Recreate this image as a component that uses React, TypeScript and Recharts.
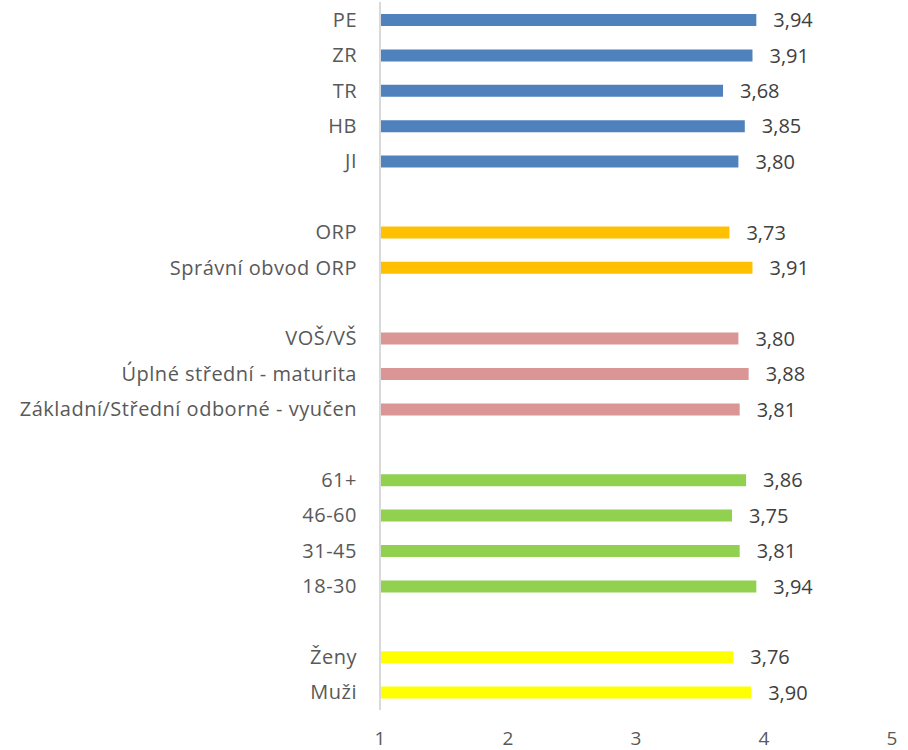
import React from 'react';
import { BarChart, Bar, XAxis, YAxis, Cell, LabelList } from 'recharts';

// rows from top to bottom, blank rows are the gaps between groups
const categories = [
  'PE', 'ZR', 'TR', 'HB', 'JI', ' ',
  'ORP', 'Správní obvod ORP', '  ',
  'VOŠ/VŠ', 'Úplné střední - maturita', 'Základní/Střední odborné - vyučen', '   ',
  '61+', '46-60', '31-45', '18-30', '    ',
  'Ženy', 'Muži',
];
const values = [
  3.94, 3.91, 3.68, 3.85, 3.8, null,
  3.73, 3.91, null,
  3.8, 3.88, 3.81, null,
  3.86, 3.75, 3.81, 3.94, null,
  3.76, 3.9,
];
const groups = [
  'kraj', 'kraj', 'kraj', 'kraj', 'kraj', '',
  'obec', 'obec', '',
  'vzdelani', 'vzdelani', 'vzdelani', '',
  'vek', 'vek', 'vek', 'vek', '',
  'pohlavi', 'pohlavi',
];
const xTicks = [1, 2, 3, 4, 5];

const groupColors: Record<string, string> = {
  kraj: '#4F81BD',
  obec: '#FFC000',
  vzdelani: '#D99694',
  vek: '#92D050',
  pohlavi: '#FFFF00',
};

const data = categories.map((name, i) => ({ name, value: values[i], group: groups[i] }));

const font = '"Open Sans", Lato, sans-serif';

const App: React.FC = () => {
  return (
    <div style={{ position: 'absolute', left: 0, top: 0 }}>
      <BarChart
        width={908}
        height={750}
        layout="vertical"
        data={data}
        margin={{ top: 2, right: 16, bottom: 0, left: 0 }}
        barCategoryGap={0}
      >
        <XAxis
          type="number"
          domain={[1, 5]}
          ticks={xTicks}
          axisLine={false}
          tickLine={false}
          tickSize={0}
          tickMargin={22}
          height={40}
          tick={{ fill: '#595959', fontSize: 19, fontFamily: font }}
        />
        <YAxis
          type="category"
          dataKey="name"
          width={380}
          axisLine={{ stroke: '#D9D9D9', strokeWidth: 2 }}
          tickLine={false}
          tickSize={0}
          tickMargin={23}
          interval={0}
          tick={{ fill: '#595959', fontSize: 20, fontFamily: font, letterSpacing: 0.5 }}
        />
        <Bar dataKey="value" barSize={12} isAnimationActive={false}>
          {data.map((d, i) => (
            <Cell key={i} fill={groupColors[d.group] || 'transparent'} />
          ))}
          <LabelList
            dataKey="value"
            position="right"
            offset={17}
            formatter={(v: any) => (v == null ? '' : Number(v).toFixed(2).replace('.', ','))}
            style={{ fill: '#404040', fontSize: 20, fontFamily: font }}
          />
        </Bar>
      </BarChart>
    </div>
  );
};

export default App;
